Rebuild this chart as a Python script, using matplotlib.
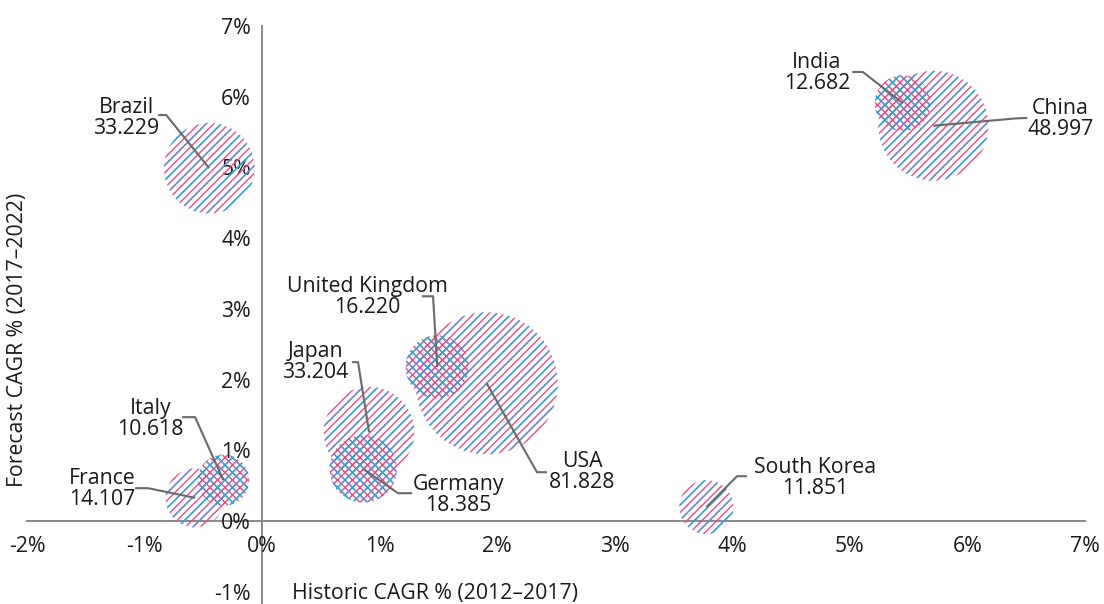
import matplotlib
matplotlib.use("Agg")
import matplotlib.pyplot as plt
import numpy as np

# data
countries = ["Brazil", "India", "China", "United Kingdom", "Japan",
             "USA", "Germany", "Italy", "France", "South Korea"]
historic = [-0.45, 5.45, 5.71, 1.49, 0.91, 1.91, 0.86, -0.33, -0.57, 3.78]
forecast = [4.99, 5.91, 5.59, 2.18, 1.26, 1.95, 0.74, 0.58, 0.33, 0.20]
market = [33.229, 12.682, 48.997, 16.220, 33.204, 81.828, 18.385, 10.618, 14.107, 11.851]

x_ticks = [-2, -1, 0, 1, 2, 3, 4, 5, 6, 7]
y_ticks = [-1, 0, 1, 2, 3, 4, 5, 6, 7]

# styling / layout
crosshatched = {"India", "United Kingdom", "Germany", "Italy"}
# label centre, leader start, leader elbow (data units)
label_pos = {
    "Brazil":         ((-1.157, 5.70), (-0.884, 5.742), (-0.816, 5.742)),
    "India":          ((4.72, 6.33), (5.02, 6.35), (5.11, 6.35)),
    "China":          ((6.79, 5.68), (6.51, 5.70), (6.42, 5.695)),
    "United Kingdom": ((0.893, 3.175), (1.36, 3.18), (1.454, 3.18)),
    "Japan":          ((0.451, 2.256), (0.765, 2.249), (0.816, 2.249)),
    "USA":            ((2.721, 0.70), (2.423, 0.693), (2.338, 0.693)),
    "Germany":        ((1.667, 0.368), (1.276, 0.396), (1.156, 0.396)),
    "Italy":          ((-0.952, 1.45), (-0.680, 1.471), (-0.570, 1.471)),
    "France":         ((-1.361, 0.46), (-1.08, 0.467), (-0.969, 0.467)),
    "South Korea":    ((4.702, 0.615), (4.124, 0.636), (4.04, 0.636)),
}

PINK = "#EC4A8B"
BLUE = "#29A9E1"
TXT = "#1a1a1a"
DPI = 90

plt.rcParams["font.family"] = ["Open Sans", "DejaVu Sans"]
plt.rcParams["hatch.linewidth"] = 1.1

fig = plt.figure(figsize=(1104 / DPI, 604 / DPI), dpi=DPI)
ax = fig.add_axes([27 / 1104, 0, 1058 / 1104, 578 / 604])
ax.set_xlim(-2, 7)
ax.set_ylim(-1.17, 7)

# bubble area proportional to value, biggest one ~142 px across
d_max_pt = 142 * 72 / DPI
sizes = np.array(market) * d_max_pt ** 2 / max(market)

for i, name in enumerate(countries):
    if name in crosshatched:
        h1, h2 = "xxxx", "xx"
    else:
        h1, h2 = "////", "//"
    ax.scatter(historic[i], forecast[i], s=sizes[i], facecolors="none",
               edgecolors=PINK, linewidths=0, hatch=h1, zorder=2)
    ax.scatter(historic[i], forecast[i], s=sizes[i], facecolors="none",
               edgecolors=BLUE, linewidths=0, hatch=h2, zorder=2)

for i, name in enumerate(countries):
    (tx, ty), (sx, sy), (ex, ey) = label_pos[name]
    ax.plot([sx, ex, historic[i]], [sy, ey, forecast[i]], color="#6b6b6b",
            lw=1.7, zorder=4, solid_capstyle="butt")
    ax.text(tx, ty, "%s\n%.3f" % (name, market[i]), ha="center", va="center",
            fontsize=17, color=TXT, linespacing=1.0, zorder=5)

for s in ["top", "right"]:
    ax.spines[s].set_visible(False)
ax.spines["left"].set_position(("data", 0))
ax.spines["bottom"].set_position(("data", 0))
ax.spines["left"].set_bounds(-1.17, 7)
ax.spines["bottom"].set_bounds(-2, 7)
for s in ["left", "bottom"]:
    ax.spines[s].set_color("#8c8c8c")
    ax.spines[s].set_linewidth(1.6)
    ax.spines[s].set_zorder(1)

ax.set_xticks(x_ticks)
ax.set_yticks(y_ticks)
ax.set_xticklabels(["%d%%" % v for v in x_ticks])
ax.set_yticklabels(["%d%%" % v for v in y_ticks])
ax.tick_params(axis="both", length=0, labelsize=17, labelcolor=TXT)
ax.tick_params(axis="y", pad=9)
ax.tick_params(axis="x", pad=12)
ax.set_facecolor("none")

fig.text(435 / 1104, 1 - 594 / 604, "Historic CAGR % (2012\u20132017)",
         ha="center", va="center", fontsize=17, color=TXT)
fig.text(18 / 1104, 1 - 340 / 604, "Forecast CAGR % (2017\u20132022)",
         ha="center", va="center", rotation=90, fontsize=17, color=TXT)

fig.savefig("out.png", dpi=DPI, facecolor="white")
